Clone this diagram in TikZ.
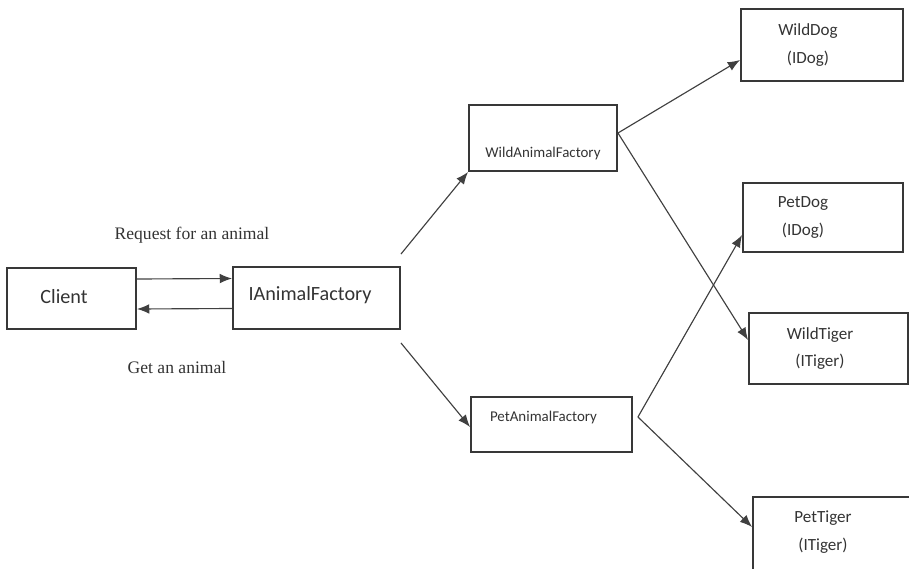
\documentclass[tikz,border=0pt]{standalone}
\usepackage{fontspec}
\setmainfont{Carlito}
\newfontfamily\capfont{Liberation Serif}
\usetikzlibrary{arrows.meta}

\definecolor{boxgray}{gray}{0.22}
\definecolor{linegray}{gray}{0.25}
\definecolor{txtgray}{gray}{0.2}

\tikzset{
    box/.style={draw=boxgray, line width=1.1pt, inner sep=0pt},
    inbox/.style={text=txtgray, align=center, inner sep=0pt},
    bigtext/.style={inbox, font=\fontsize{11.5}{14}\selectfont},
    facttext/.style={inbox, font=\fontsize{8.5}{10}\selectfont},
    leaftext/.style={inbox, font=\fontsize{9.7}{15.5}\selectfont},
    caplabel/.style={text=txtgray, font=\capfont\fontsize{10}{12}\selectfont},
    link/.style={draw=linegray, line width=0.65pt, ->},
}

\begin{document}
\begin{tikzpicture}[x=0.02cm, y=-0.02cm, >={Latex[length=7pt,width=5.5pt]}]
        \path[use as bounding box, clip] (0,0) rectangle (909,568);

        % client side
        \node[box, minimum width=2.58cm, minimum height=1.22cm,
            label={[bigtext, name=clienttext, xshift=-0.15cm, yshift=0.04cm]center:Client}]
            (client) at (71.5,298.5) {};
        \node[box, minimum width=3.34cm, minimum height=1.24cm,
            label={[bigtext, name=iaftext, xshift=-0.13cm, yshift=0.06cm]center:IAnimalFactory}]
            (iaf) at (316.5,298) {};
        \node[caplabel] (reqlabel) at (192,235) {Request for an animal};
        \node[caplabel] (getlabel) at (177,367) {Get an animal};

        % factories
        \node[box, minimum width=2.96cm, minimum height=1.32cm,
            label={[facttext, name=waftext, yshift=-0.32cm]center:WildAnimalFactory}]
            (waf) at (543,138) {};
        \node[box, minimum width=3.22cm, minimum height=1.10cm,
            label={[facttext, name=paftext, xshift=-0.16cm, yshift=0.13cm]center:PetAnimalFactory}]
            (paf) at (551.5,424.5) {};

        % products
        \node[box, minimum width=3.24cm, minimum height=1.44cm,
            label={[leaftext, name=wilddogtext, xshift=-0.28cm]center:{WildDog\\(IDog)}}]
            (wilddog) at (822,45) {};
        \node[box, minimum width=3.20cm, minimum height=1.38cm,
            label={[leaftext, name=petdogtext, xshift=-0.4cm]center:{PetDog\\(IDog)}}]
            (petdog) at (823,217.5) {};
        \node[box, minimum width=3.18cm, minimum height=1.42cm,
            label={[leaftext, name=wildtigertext, xshift=-0.17cm]center:{WildTiger\\(ITiger)}}]
            (wildtiger) at (828.5,348.5) {};
        \node[box, minimum width=3.20cm, minimum height=1.52cm,
            label={[leaftext, name=pettigertext, xshift=-0.2cm, yshift=0.06cm]center:{PetTiger\\(ITiger)}}]
            (pettiger) at (833,535) {};

        \draw[link] ([yshift=0.39cm]client.east) -- ([yshift=0.39cm]iaf.west);
        \draw[link] ([yshift=-0.21cm]iaf.west) -- ([yshift=-0.21cm]client.east);
        \draw[link] ([yshift=0.24cm]iaf.north east) -- (waf.south west);
        \draw[link] ([yshift=-0.26cm]iaf.south east) -- ([yshift=-0.05cm]paf.west);

        \coordinate (wafout) at ([yshift=0.1cm]waf.east);
        \coordinate (pafout) at ([xshift=0.1cm, yshift=0.15cm]paf.east);
        \draw[link] (wafout) -- ([yshift=-0.3cm]wilddog.west);
        \draw[link] (wafout) -- ([yshift=0.17cm]wildtiger.west);
        \draw[link] (pafout) -- ([yshift=-0.35cm]petdog.west);
        \draw[link] (pafout) -- ([yshift=0.16cm]pettiger.west);
    \end{tikzpicture}
\end{document}
